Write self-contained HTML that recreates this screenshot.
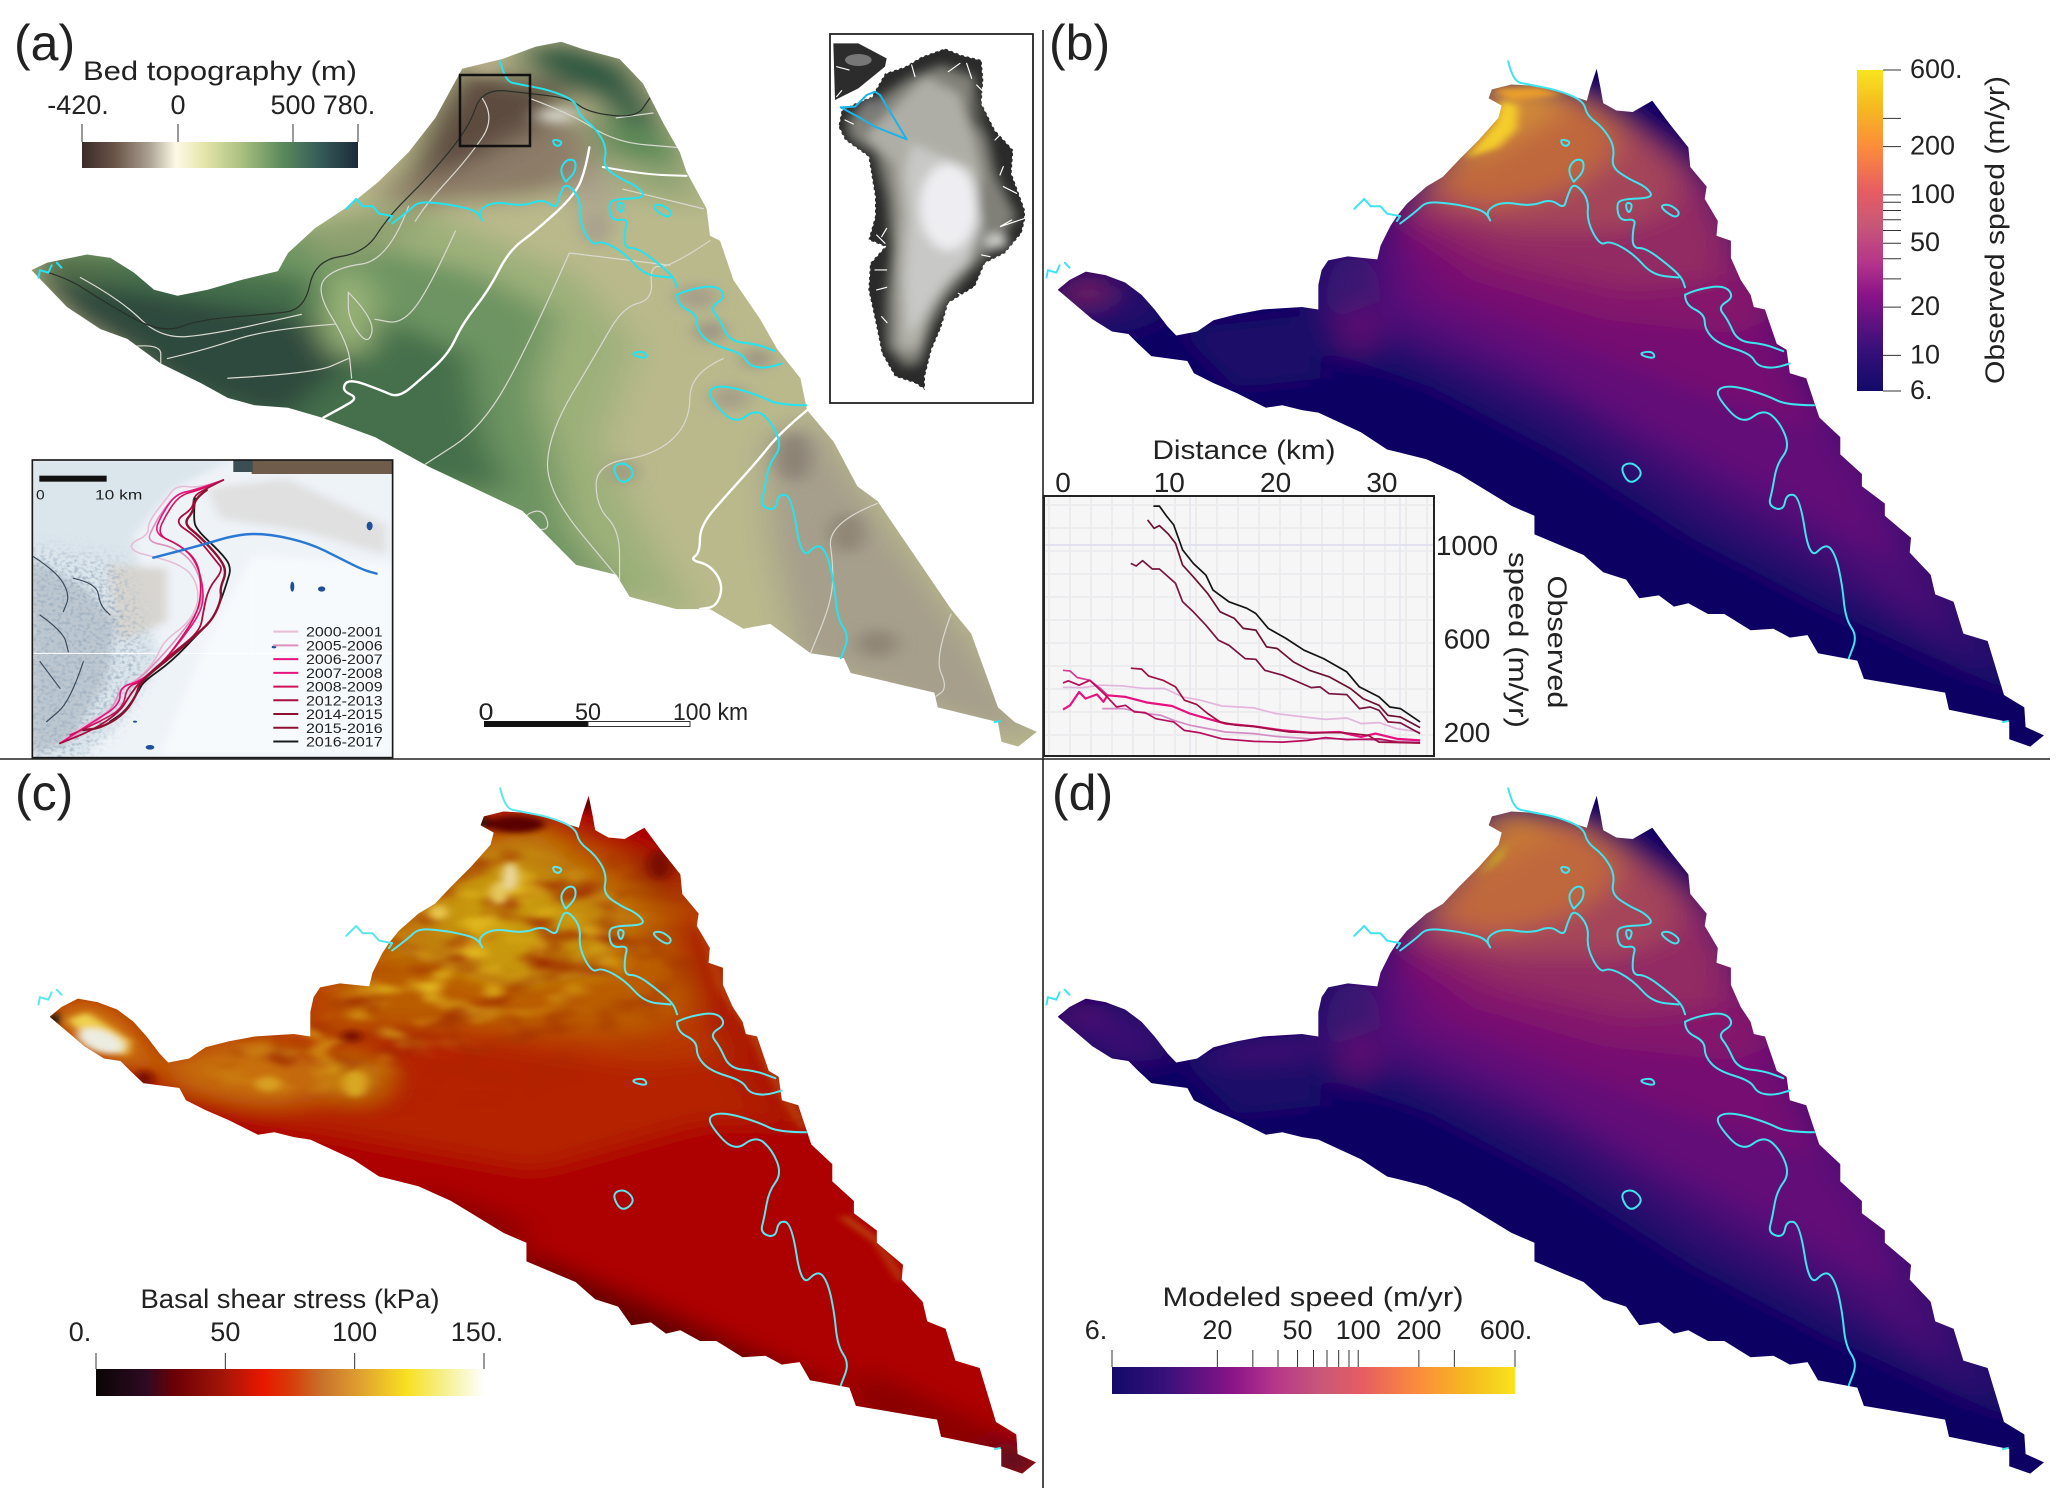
<!DOCTYPE html>
<html><head><meta charset="utf-8"><title>Bed topography, speed and basal shear stress maps</title>
<style>
html,body{margin:0;padding:0;background:#fff}
svg{display:block}
text{font-family:"Liberation Sans",sans-serif;fill:#222}
.ns{vector-effect:non-scaling-stroke;fill:none;stroke-linejoin:round;stroke-linecap:round}
</style></head>
<body>
<svg id="fig" xmlns="http://www.w3.org/2000/svg" width="2067" height="1506" viewBox="0 0 2067 1506">
<defs>
<clipPath id="shapeB"><polygon points="27,590 45,570 70,553 100,560 130,575 155,600 175,630 195,665 208,683 240,675 265,652 300,640 340,630 400,625 425,630 425,580 430,550 440,530 470,522 515,528 520,500 535,460 545,440 560,415 590,380 615,360 640,325 670,285 700,240 705,215 685,200 690,182 720,172 760,175 800,190 835,205 840,180 850,140 856,180 860,210 880,225 905,228 935,205 960,250 990,300 993,340 1018,380 1015,405 1035,450 1033,480 1055,490 1055,525 1070,570 1085,600 1090,625 1107,630 1125,700 1140,712 1145,760 1170,770 1190,850 1222,890 1222,925 1255,965 1255,990 1290,1025 1290,1050 1330,1095 1328,1125 1360,1170 1367,1210 1395,1225 1410,1290 1447,1305 1472,1415 1503,1440 1505,1480 1533,1497 1512,1520 1480,1505 1480,1470 1388,1445 1382,1410 1258,1382 1248,1345 1188,1330 1172,1293 1145,1298 1120,1280 1085,1283 1045,1250 1020,1250 990,1228 968,1235 945,1212 915,1218 895,1180 860,1165 830,1130 755,1088 755,1050 720,1030 640,965 590,935 530,915 490,880 425,840 400,835 370,825 345,830 300,800 265,780 235,760 225,735 170,725 150,700 135,680 110,675 80,650"/></clipPath>
<clipPath id="shapeA"><polygon points="47,550 70,535 130,518 165,525 200,555 230,590 265,602 310,590 360,570 415,552 430,515 470,465 520,420 565,370 610,310 650,240 690,140 750,120 800,95 838,85 870,100 925,120 960,170 990,250 1015,310 1025,350 1045,400 1055,425 1060,480 1075,490 1095,570 1135,650 1160,710 1195,770 1205,835 1245,900 1280,990 1310,1020 1350,1100 1375,1150 1420,1240 1450,1290 1490,1440 1515,1470 1548,1490 1520,1520 1495,1510 1490,1470 1400,1440 1395,1410 1270,1370 1260,1340 1210,1330 1180,1300 1150,1270 1110,1280 1060,1240 1010,1240 940,1215 920,1170 860,1150 780,1040 640,950 560,890 480,850 430,830 380,825 340,810 300,780 240,740 190,690 150,670 100,625"/></clipPath>
<clipPath id="greenClip"><polygon points="140,200 180,130 240,110 290,80 360,55 410,75 470,90 475,150 470,220 510,300 565,360 560,430 600,540 600,570 590,610 540,670 480,700 450,770 370,820 350,890 320,960 300,1040 300,1080 270,1060 210,1040 170,970 150,870 130,780 135,700 180,650 130,630 150,560 150,500 130,380 60,330 40,290 50,240 90,220"/></clipPath>
<clipPath id="insetClip"><rect x="37" y="15" width="1081" height="893"/></clipPath>
<filter id="blurXL" filterUnits="userSpaceOnUse" x="-200" y="-200" width="2000" height="2000"><feGaussianBlur stdDeviation="26 22"/></filter>
<filter id="blurL" filterUnits="userSpaceOnUse" x="-200" y="-200" width="2000" height="2000"><feGaussianBlur stdDeviation="14 12"/></filter>
<filter id="blurM" filterUnits="userSpaceOnUse" x="-200" y="-200" width="2000" height="2000"><feGaussianBlur stdDeviation="7 6"/></filter>
<filter id="blurG" filterUnits="userSpaceOnUse" x="-100" y="-100" width="900" height="1400"><feGaussianBlur stdDeviation="16"/></filter>
<filter id="mottleDark" color-interpolation-filters="sRGB" filterUnits="userSpaceOnUse" x="-100" y="-100" width="1800" height="1800"><feGaussianBlur in="SourceGraphic" stdDeviation="30" result="m"/><feTurbulence type="fractalNoise" baseFrequency=".014 .02" numOctaves="2" seed="7"/><feColorMatrix values="0 0 0 0 .62  0 0 0 0 .17  0 0 0 0 0  3 0 0 0 -1.45"/><feGaussianBlur stdDeviation="5"/><feComposite in2="m" operator="in"/></filter>
<filter id="mottleLight" color-interpolation-filters="sRGB" filterUnits="userSpaceOnUse" x="-100" y="-100" width="1800" height="1800"><feGaussianBlur in="SourceGraphic" stdDeviation="30" result="m"/><feTurbulence type="fractalNoise" baseFrequency=".016 .024" numOctaves="2" seed="21"/><feColorMatrix values="0 0 0 0 .88  0 0 0 0 .72  0 0 0 0 .12  3 0 0 0 -1.45"/><feGaussianBlur stdDeviation="5"/><feComposite in2="m" operator="in"/></filter>
<filter id="iceNoise" color-interpolation-filters="sRGB" filterUnits="userSpaceOnUse" x="0" y="0" width="1200" height="950"><feGaussianBlur in="SourceGraphic" stdDeviation="30" result="m"/><feTurbulence type="fractalNoise" baseFrequency=".08 .11" numOctaves="2" seed="3"/><feColorMatrix values="0 0 0 0 .62  0 0 0 0 .69  0 0 0 0 .76  2.6 0 0 0 -1.15"/><feComposite in2="m" operator="in"/></filter>
<linearGradient id="gradTopo" x1="0" x2="1" y1="0" y2="0"><stop offset="0" stop-color="#3a2a28"/><stop offset=".12" stop-color="#6b5549"/><stop offset=".24" stop-color="#a89e90"/><stop offset=".34" stop-color="#fdf9e6"/><stop offset=".44" stop-color="#e6e6ac"/><stop offset=".58" stop-color="#a9bf80"/><stop offset=".72" stop-color="#5d8c5c"/><stop offset=".86" stop-color="#365c58"/><stop offset="1" stop-color="#1b2a3a"/></linearGradient>
<linearGradient id="gradStress" x1="0" x2="1" y1="0" y2="0"><stop offset="0" stop-color="#0a0505"/><stop offset=".13" stop-color="#2e0a22"/><stop offset=".2" stop-color="#6a0005"/><stop offset=".33" stop-color="#a51508"/><stop offset=".43" stop-color="#e81800"/><stop offset=".5" stop-color="#d83a08"/><stop offset=".58" stop-color="#c8702a"/><stop offset=".68" stop-color="#e0a030"/><stop offset=".8" stop-color="#f8e020"/><stop offset=".9" stop-color="#f5f090"/><stop offset="1" stop-color="#ffffff"/></linearGradient>
<linearGradient id="gradSpeedH" x1="0" x2="1" y1="0" y2="0"><stop offset="0" stop-color="#120a68"/><stop offset=".13" stop-color="#37107a"/><stop offset=".3" stop-color="#8a1488"/><stop offset=".4" stop-color="#b5358a"/><stop offset=".52" stop-color="#c85878"/><stop offset=".62" stop-color="#e65c62"/><stop offset=".76" stop-color="#fc8c3c"/><stop offset=".88" stop-color="#f5b820"/><stop offset="1" stop-color="#f8e41e"/></linearGradient>
<linearGradient id="gradSpeedV" x1="0" x2="0" y1="1" y2="0"><stop offset="0" stop-color="#120a68"/><stop offset=".13" stop-color="#37107a"/><stop offset=".3" stop-color="#8a1488"/><stop offset=".4" stop-color="#b5358a"/><stop offset=".52" stop-color="#c85878"/><stop offset=".62" stop-color="#e65c62"/><stop offset=".76" stop-color="#fc8c3c"/><stop offset=".88" stop-color="#f5b820"/><stop offset="1" stop-color="#f8e41e"/></linearGradient>
<pattern id="gridPat" patternUnits="userSpaceOnUse" width="21" height="23"><rect width="21" height="23" fill="#f6f6f7"/><path d="M20 0V23M0 22H21" stroke="#ececef" stroke-width="2"/></pattern>

<g id="cyanLines">
<path class="ns sm" d="M715,125 L722,165 745,172 790,183 830,205 835,235 860,260 878,300 872,340 900,365 925,380 938,403 890,405 880,415 885,450 910,445 905,470 905,505 925,505 960,540 980,565 985,585"/>
<path class="ns sm" d="M550,455 L575,430 590,410 630,415 650,420 680,430 690,455 680,430 705,410 750,420 780,405 800,425 805,400 815,370 838,405 835,450 855,500 870,490 905,515 935,560 975,565"/>
<path class="ns sm" d="M815,370 L805,350 815,325 830,325 830,350 815,370"/>
<path class="ns sm" d="M985,600 L1000,590 1045,580 1060,605 1035,625 1050,650 1065,695 1105,700 1135,715"/>
<path class="ns sm" d="M985,600 L985,620 1015,640 1015,670 1035,700 1085,720 1095,745 1120,750 1145,740"/>
<path class="ns sm" d="M1182,825 L1140,825 1110,805 1060,785 1035,790 1035,810 1072,865 1105,832 1130,860 1145,910 1125,945 1118,1000 1112,1030 1135,1040 1140,1005 1160,1010 1175,1140 1200,1105 1215,1130 1225,1190 1230,1260 1248,1295 1235,1340"/>
<path class="ns sm" d="M795,283 L810,288 805,298 797,295Z M945,420 L960,415 978,432 970,445Z M895,412 L905,415 900,435 895,425Z M917,718 L935,715 940,730 920,725Z M885,950 L905,940 922,965 900,988Z"/>
<path class="ns" d="M480,425 L495,405 505,420 520,420 530,435 550,440 545,450 M10,565 L12,550 25,555 30,540 M38,535 L45,545 M1470,1470 L1478,1468"/>
</g>

<g id="speedBands">
<rect x="-100" y="0" width="1800" height="1700" fill="#0b0564"/>
<polygon fill="#1c086a" points="420,520 400,620 430,710 600,790 800,930 1000,1100 1200,1240 1500,1420 1500,1200 1300,950 1100,500 1000,330 850,220 650,300"/>
<polygon fill="#320970" points="440,520 450,650 620,760 800,880 1000,1060 1230,1210 1440,1370 1400,1150 1220,800 1050,380 850,220 650,300"/>
<polygon fill="#4c0a76" points="520,500 500,660 640,730 800,820 1000,990 1220,1150 1380,1290 1320,1030 1150,700 1020,380 850,220 650,300"/>
<polygon fill="#620a78" points="530,490 540,620 740,740 930,880 1130,1020 1310,1150 1250,960 1120,700 1020,400 850,220"/>
<polygon fill="#751072" points="545,470 600,600 780,690 1000,800 1190,880 1120,640 1030,420 860,220"/>
<polygon fill="#84186c" points="545,450 660,570 860,650 1060,680 1130,640 1050,470 1010,370 880,220"/>
<polygon fill="#922c64" points="550,430 700,530 900,590 1040,570 1050,470 1010,370 880,220"/>
<polygon fill="#a4455a" points="570,420 720,470 880,470 960,430 980,350 900,240 780,190"/>
<polygon fill="#c0683c" points="590,385 690,425 800,390 870,330 890,260 830,200 700,180 640,300"/>
<polygon fill="#0b0564" points="860,225 935,190 1010,300 1030,380 965,310 890,250"/>
<polygon fill="#1a0868" points="210,670 420,640 430,770 300,790"/>
<ellipse fill="#3a1272" cx="475" cy="600" rx="45" ry="80"/>
<ellipse fill="#6b1070" cx="485" cy="670" rx="18" ry="55"/>
<ellipse fill="#220a6a" cx="110" cy="620" rx="85" ry="55"/>
</g>
</defs>

<rect width="2067" height="1506" fill="#fff"/>

<!-- panel a -->
<g transform="scale(.6698,.4912)">
<g clip-path="url(#shapeA)">
<g filter="url(#blurXL)">
<rect x="-100" y="0" width="1800" height="1700" fill="#b9b98c"/>
<polygon fill="#9db07a" points="30,500 620,420 860,560 950,700 900,900 950,1050 1040,1260 700,1100 300,900"/>
<polygon fill="#6d9462" points="30,500 480,470 720,560 830,640 800,800 830,950 850,1080 940,1240 700,1080 300,900"/>
<polygon fill="#456f4c" points="30,500 440,560 560,640 700,720 720,880 760,1000 600,980 300,880"/>
<polygon fill="#2f4a3e" points="40,560 200,590 440,640 530,720 470,800 420,860 250,780 100,650"/>
<ellipse fill="#9ab478" cx="520" cy="640" rx="40" ry="90"/>
<ellipse fill="#556f4c" cx="120" cy="550" rx="70" ry="25"/>
<polygon fill="#8c7c68" points="550,400 620,340 720,300 860,230 900,360 800,400 620,420"/>
<polygon fill="#5d4b3f" points="690,130 850,180 830,240 700,330 600,380 640,240"/>
<polygon fill="#8fa070" points="460,470 580,420 640,440 560,520 470,530"/>
<polygon fill="#a89f8e" points="860,330 920,370 900,470 860,420"/>
<polygon fill="#2f5a42" points="760,100 838,75 940,120 1000,260 960,280 880,200 800,150"/>
<polygon fill="#5d8a58" points="880,230 1010,270 1030,350 900,320"/>
<polygon fill="#94a676" points="900,330 1030,350 1060,420 950,400"/>
<polygon fill="#a69f8c" points="1140,900 1210,840 1330,1080 1450,1300 1560,1520 1400,1450 1190,1340 1150,1100"/>
</g>
<g filter="url(#blurL)">
<ellipse fill="#8b8274" cx="1185" cy="930" rx="26" ry="50"/>
<ellipse fill="#8f8576" cx="1265" cy="1085" rx="26" ry="40"/>
<ellipse fill="#8f8576" cx="1310" cy="1310" rx="30" ry="28"/>
<ellipse fill="#a69f8a" cx="1040" cy="605" rx="32" ry="25"/>
<ellipse fill="#9b9384" cx="1060" cy="675" rx="22" ry="22"/>
<ellipse fill="#9b9384" cx="1130" cy="730" rx="22" ry="20"/>
<ellipse fill="#a69f8a" cx="1090" cy="810" rx="30" ry="25"/>
<ellipse fill="#9f9980" cx="930" cy="960" rx="20" ry="25"/>
<ellipse fill="#a89f8e" cx="890" cy="465" rx="20" ry="35"/>
<ellipse fill="#e0e0d8" cx="830" cy="235" rx="30" ry="14"/>
<ellipse fill="#bdb090" cx="725" cy="135" rx="22" ry="14"/>
</g>
<g>
<path class="ns sm" stroke="#fff" stroke-width="2.4" d="M880,300 L875,340 860,395 800,470 760,510 730,590 690,660 670,720 630,770 595,810 570,795 520,770 510,795 535,810 510,830 483,850"/>
<path class="ns sm" stroke="#fff" stroke-width="2.4" d="M1205,835 L1165,880 1130,940 1090,1000 1045,1070 1045,1125 1030,1140 1060,1150 1080,1190 1070,1235 1045,1240"/>
<path class="ns sm" stroke="#fff" stroke-width="2" d="M900,340 L960,355 1025,358"/>
<path class="ns sm" stroke="#d9d9d0" stroke-width="1.2" d="M1060,490 L1000,545 970,540 975,610 930,625 890,720 820,880 815,1000 925,1180"/>
<path class="ns sm" stroke="#d9d9d0" stroke-width="1.2" d="M850,515 L790,700 720,870 635,945 M850,515 L1000,540"/>
<path class="ns sm" stroke="#d9d9d0" stroke-width="1.2" d="M1080,730 L1030,760 1030,860 980,925 890,945 890,1030 925,1080 925,1180"/>
<path class="ns sm" stroke="#d9d9d0" stroke-width="1.2" d="M1310,1025 L1235,1065 1245,1160 1240,1230 1210,1330 M1420,1250 L1395,1340 1415,1400 1395,1420"/>
<path class="ns sm" stroke="#d9d9d0" stroke-width="1.2" d="M680,470 L640,590 600,660 560,650 M610,420 L580,530 500,545 470,590 520,700 525,770 M520,595 L560,650 550,705 520,650 520,595"/>
<path class="ns sm" stroke="#d9d9d0" stroke-width="1.2" d="M120,565 L180,610 240,690 320,680 450,640 M500,660 L400,670 310,710 250,730 M340,770 L470,760 520,730 M200,705 L240,700 240,740"/>
<path class="ns sm" stroke="#d9d9d0" stroke-width="1.2" d="M720,200 L740,240 700,320 640,410 620,450 M790,200 L850,230 920,290 1010,300 M920,240 L975,230 M930,385 L1050,425 M780,1050 L810,1035 822,1078 795,1078Z"/>
<path class="ns sm" stroke="#29302a" stroke-width="1.2" d="M60,550 L100,565 150,610 240,680 300,650 400,640 455,630 470,530 545,515 580,440 640,360 700,260 720,180 790,190 850,200 880,230 950,240 970,200"/>
</g>
</g>
</g>
<use href="#cyanLines" transform="translate(32,0) scale(.6549,.4912)" stroke="#27e3ee" stroke-width="2"/>
<rect x="460" y="75" width="70" height="71" fill="none" stroke="#111" stroke-width="2.5"/>

<!-- Greenland inset -->
<rect x="830" y="34" width="203" height="369" fill="#fff" stroke="#222" stroke-width="1.8"/>
<g transform="translate(825,30) scale(.3333)">
<polygon fill="#2c2c2c" points="25,40 100,40 185,85 180,110 100,175 30,210"/>
<ellipse fill="#777" cx="100" cy="90" rx="40" ry="18"/>
<polygon fill="#2a2a2a" points="140,200 180,130 240,110 290,80 360,55 410,75 470,90 475,150 470,220 510,300 565,360 560,430 600,540 600,570 590,610 540,670 480,700 450,770 370,820 350,890 320,960 300,1040 300,1080 270,1060 210,1040 170,970 150,870 130,780 135,700 180,650 130,630 150,560 150,500 130,380 60,330 40,290 50,240 90,220"/>
<g clip-path="url(#greenClip)"><g filter="url(#blurG)">
<polygon fill="#808078" points="170,200 250,145 350,105 450,140 450,240 490,330 510,430 575,560 510,650 440,720 370,800 320,890 285,1000 240,1010 185,950 185,800 200,660 185,500 150,370 75,325 65,270 110,235"/>
<polygon fill="#aeaea6" points="190,250 300,140 400,190 440,300 470,430 450,620 400,720 320,830 280,960 220,960 215,700 225,550 205,400 120,320"/>
<polygon fill="#c8c8c6" points="260,340 440,420 470,580 430,700 360,760 300,850 250,920 240,760 255,560 240,430"/>
<ellipse fill="#eeeef2" cx="370" cy="530" rx="85" ry="130"/>
<ellipse fill="#d8d8d4" cx="515" cy="635" rx="35" ry="20"/>
<ellipse fill="#5a5a54" cx="450" cy="250" rx="20" ry="50"/>
<ellipse fill="#777" cx="145" cy="230" rx="45" ry="25"/>
</g></g>
<g stroke="#fff" stroke-width="3.5" fill="none" stroke-linecap="round">
<path d="M120,170 L190,110 M260,105 L270,140 M370,125 L405,100 M425,100 L440,145 M455,165 L475,185 M510,330 L530,310 M535,410 L525,435 M535,470 L575,490 M560,570 L525,590 L600,565 M495,680 L470,675 M400,790 L418,800 M180,640 L155,615 M170,620 L185,595 M150,720 L185,720 M155,780 L185,772 M170,860 L186,878 M35,110 L72,120 M35,200 L50,182 M60,270 L85,282 M350,880 L362,888 M320,960 L328,968"/>
<polygon points="140,200 180,130 240,110 290,80 360,55 410,75 470,90 475,150 470,220 510,300 565,360 560,430 600,540 600,570 590,610 540,670 480,700 450,770 370,820 350,890 320,960 300,1040 300,1080 270,1060 210,1040 170,970 150,870 130,780 135,700 180,650 130,630 150,560 150,500 130,380 60,330 40,290 50,240 90,220" stroke-width="5" stroke-dasharray="4 13"/>
</g>
<path class="ns" stroke="#1cb4e6" stroke-width="2" d="M47,232 L90,230 125,195 150,185 165,195 245,328 150,290 95,258 47,232"/>
</g>

<!-- glacier front inset -->
<g transform="translate(20,455) scale(.3333)">
<g clip-path="url(#insetClip)">
<rect x="37" y="15" width="1081" height="893" fill="#eef3f8"/>
<g filter="url(#blurL)">
<polygon fill="#dbe5ec" points="30,10 640,10 460,100 340,240 390,500 420,620 300,800 180,910 30,910"/>
<polygon fill="#bdc7d0" points="30,310 200,400 290,500 260,680 150,860 30,900"/>
<polygon fill="#d8d5d0" points="260,330 440,340 440,500 300,560"/>
<polygon fill="#e0e0e0" points="560,100 800,70 1100,210 1100,300 850,230 600,190"/>
<polygon fill="#f7fafd" points="700,300 1118,330 1118,900 420,900 560,560"/>
</g>
<polygon filter="url(#iceNoise)" fill="#fff" points="20,280 300,320 360,500 390,620 290,800 170,920 20,920"/>
<rect x="695" y="15" width="423" height="42" fill="#6f5c4b"/>
<rect x="640" y="15" width="58" height="36" fill="#3a4e54"/>
<path class="ns sm" stroke="#3c4c5c" stroke-width="1.2" d="M40,305 L110,350 150,420 130,470 M160,370 L230,385 240,450 270,480 M60,480 L130,530 145,590 M190,620 L150,740 80,800 M60,620 L120,700"/>
<path d="M40 595H1118" stroke="#fff" stroke-width="3"/>
<path d="M695 300V600" stroke="#fff" stroke-width="1.5" opacity=".6"/>
<g fill="#1d4f9c"><ellipse cx="1049" cy="213" rx="9" ry="13"/><ellipse cx="817" cy="395" rx="6" ry="15"/><ellipse cx="905" cy="402" rx="11" ry="8"/><ellipse cx="390" cy="877" rx="13" ry="7"/><ellipse cx="762" cy="576" rx="7" ry="4"/><ellipse cx="345" cy="800" rx="6" ry="3"/></g>
<g stroke-width="1.5">
<path class="ns sm" stroke="#e6bcd6" stroke-width="1.6" d="M610,75 L540,100 470,90 440,130 385,200 385,240 330,265 340,290 400,305 470,325 520,360 540,430 510,500 430,560 410,610 360,670 300,700 290,750 230,790 170,825 120,865"/>
<path class="ns sm" stroke="#dd8fbc" stroke-width="1.6" d="M610,75 L520,105 465,120 420,180 400,215 380,260 460,275 520,320 550,400 540,460 480,540 420,610 350,680 300,700 280,760 200,820 120,865"/>
<path class="ns sm" stroke="#e8137f" stroke-width="1.6" d="M610,75 L530,105 470,115 430,170 400,235 470,265 525,310 552,400 545,470 480,560 430,620 360,680 300,695 300,750 220,800 120,865"/>
<path class="ns sm" stroke="#d1105c" stroke-width="1.6" d="M610,75 L540,105 480,120 440,175 410,240 480,270 535,320 545,410 530,480 470,570 425,625 365,680 320,695 310,760 230,805 150,840"/>
<path class="ns sm" stroke="#a80e40" stroke-width="1.8" d="M610,75 L550,105 520,125 520,160 460,200 530,245 590,320 610,345 565,400 550,470 540,530 450,600 360,680 330,720 300,770 220,825 120,865"/>
<path class="ns sm" stroke="#1a1a1a" stroke-width="1.8" d="M525,130 L520,190 530,225 600,290 635,335 620,385 605,430 580,490 540,530 455,620 370,680 355,710 315,770 270,800"/>
<path class="ns sm" stroke="#8d1030" stroke-width="2.4" d="M560,105 L525,130 520,170 490,205 540,245 600,310 620,350 600,400 605,430 580,490 540,530 460,600 360,680 350,720 310,780 240,820 190,825"/>
</g>
<path class="ns sm" stroke="#2a78d4" stroke-width="2.4" d="M400,308 L530,275 655,237 750,237 870,265 960,310 1030,345 1070,356"/>
<rect x="58" y="62" width="202" height="18" fill="#111"/>
<text x="48" y="133" font-size="42" textLength="26" lengthAdjust="spacingAndGlyphs">0</text>
<text x="225" y="133" font-size="42" textLength="142" lengthAdjust="spacingAndGlyphs">10 km</text>
<g id="frontLegend"></g>
</g>
<rect x="37" y="15" width="1081" height="893" fill="none" stroke="#1a1a1a" stroke-width="5"/>
</g>

<g>
<rect x="484" y="721" width="104" height="6" fill="#111"/>
<rect x="588" y="721.5" width="102" height="5" fill="#fff" stroke="#333" stroke-width="1"/>
<text x="486" y="720" font-size="24" text-anchor="middle" textLength="15" lengthAdjust="spacingAndGlyphs">0</text>
<text x="588" y="720" font-size="24" text-anchor="middle" textLength="26" lengthAdjust="spacingAndGlyphs">50</text>
<text x="673" y="720" textLength="75" lengthAdjust="spacingAndGlyphs" font-size="24">100 km</text>
</g>

<!-- panel b -->
<g transform="translate(1040,0) scale(.6549,.4912)">
<g clip-path="url(#shapeB)">
<g filter="url(#blurXL)"><use href="#speedBands"/>
<polygon fill="#d08a38" points="630,350 690,310 740,270 800,225 770,175 685,175 680,230"/>
<ellipse fill="#732060" cx="72" cy="595" rx="34" ry="32"/>
</g>
<g filter="url(#blurM)"><polygon fill="#f4cc2a" points="650,322 700,300 728,262 730,215 705,205 695,250"/><polygon fill="#ea9e2a" points="690,182 760,178 800,192 720,205"/></g>
</g>
<use href="#cyanLines" stroke="#3fe4ee" stroke-width="2"/>
</g>

<!-- panel c -->
<g transform="translate(32,727) scale(.6549,.4912)">
<g clip-path="url(#shapeB)">
<g filter="url(#blurXL)" transform="translate(-48.9,67) scale(1.0228,.97)">
<rect x="0" y="0" width="1700" height="1600" fill="#ad0500"/>
<polygon fill="#b42000" points="60,450 1100,400 1230,760 1050,760 800,860 400,760 250,690"/>
<polygon fill="#b83800" points="240,620 560,560 960,640 1100,620 1060,250 760,100 420,500"/>
<polygon fill="#ba5c06" points="460,560 700,560 950,580 1040,520 1020,300 800,130 600,280"/>
<polygon fill="#c08008" points="580,400 700,180 800,150 950,330 900,450 760,480"/>
<polygon fill="#c8980c" points="650,300 740,200 880,320 860,420 760,470 680,400"/>
<polygon fill="#640000" points="780,1030 1000,1160 1250,1320 1180,1340 900,1230 760,1060"/>
<polygon fill="#8a0200" points="640,900 780,970 780,1060 600,930"/>
<polygon fill="#8a0200" points="1280,1270 1480,1400 1480,1480 1270,1380"/>
<polygon fill="#3a0a20" points="1480,1410 1560,1470 1520,1520 1480,1490"/>
<polygon fill="#880500" points="950,180 1000,230 1010,320 960,260"/>
<polygon fill="#aa1400" points="1000,340 1050,340 1215,780 1150,770 1040,520"/>
<ellipse fill="#b84a00" cx="500" cy="570" rx="45" ry="50"/>
<ellipse fill="#c46a10" cx="400" cy="670" rx="110" ry="55"/>
<ellipse fill="#c88810" cx="530" cy="670" rx="40" ry="45"/>
<polygon fill="#d07a10" points="70,540 120,500 180,540 240,650 180,640"/>
<polygon fill="#c8700e" points="240,640 350,590 450,610 400,680 280,700"/>
</g>
<g transform="translate(-48.9,67) scale(1.0228,.97)">
<polygon filter="url(#mottleDark)" fill="#fff" points="300,640 480,500 620,280 730,160 980,180 1040,360 1000,520 800,640 500,700"/>
<polygon filter="url(#mottleLight)" fill="#fff" points="320,660 500,520 640,300 770,200 940,300 960,420 800,520 600,620 480,680"/>
</g>
<g filter="url(#blurM)" transform="translate(-48.9,67) scale(1.0228,.97)">
<polygon fill="#f0d050" points="100,545 130,530 195,590 190,620 150,610"/>
<ellipse fill="#ecece0" cx="150" cy="590" rx="38" ry="22" transform="rotate(30 150 590)"/>
<ellipse fill="#ecd9a0" cx="762" cy="245" rx="12" ry="30"/>
<ellipse fill="#e6c860" cx="745" cy="280" rx="14" ry="24"/>
<ellipse fill="#e8c850" cx="655" cy="320" rx="14" ry="16"/>
<ellipse fill="#d8a820" cx="530" cy="680" rx="18" ry="28"/>
<ellipse fill="#d8a020" cx="400" cy="680" rx="20" ry="16"/>
<g fill="#5a0000"><ellipse cx="770" cy="135" rx="44" ry="18"/></g>
<g fill="#7a0800"><ellipse cx="985" cy="220" rx="18" ry="30"/><ellipse cx="525" cy="580" rx="16" ry="12"/><ellipse cx="215" cy="670" rx="14" ry="18"/></g>
<g fill="#111"><ellipse cx="80" cy="545" rx="9" ry="14"/><ellipse cx="720" cy="130" rx="8" ry="14"/><ellipse cx="878" cy="95" rx="4" ry="14"/></g>
<path class="ns" stroke="#c06a14" stroke-width="4" d="M1045,330 L1075,470 1130,590 1165,690 1200,770 M1260,960 L1310,1010 1345,1090"/>
</g>
</g>
<use href="#cyanLines" stroke="#5be6ee" stroke-width="2"/>
</g>

<!-- panel d -->
<g transform="translate(1040,727) scale(.6549,.4912)">
<g clip-path="url(#shapeB)">
<g filter="url(#blurXL)"><use href="#speedBands"/>
<polygon fill="#c87a32" points="660,330 700,280 730,250 790,225 750,180 690,180 690,230"/>
<polygon fill="#3a0c72" points="30,590 80,555 150,600 195,665 150,690 90,650"/>
<ellipse fill="#5a1070" cx="60" cy="585" rx="26" ry="20"/>
<polygon fill="#3a0c72" points="240,675 300,640 420,625 420,680 300,690"/>
</g>
<g filter="url(#blurM)"><polygon fill="#c4b420" points="670,305 704,268 715,230 695,262"/></g>
</g>
<use href="#cyanLines" stroke="#3fe4ee" stroke-width="2"/>
</g>

<!-- separators -->
<line x1="1043" y1="30" x2="1043" y2="1488" stroke="#222" stroke-width="1.6"/>
<line x1="0" y1="759" x2="2050" y2="759" stroke="#222" stroke-width="1.6"/>

<!-- panel labels -->
<text x="14" y="60" font-size="50">(a)</text>
<text x="1049" y="60" font-size="50">(b)</text>
<text x="15" y="810" font-size="50">(c)</text>
<text x="1052" y="810" font-size="50">(d)</text>

<!-- colorbars -->
<g id="cbarTopo">
<rect x="82" y="142" width="276" height="26" fill="url(#gradTopo)"/>
<text x="220" y="80" font-size="27" text-anchor="middle" textLength="274" lengthAdjust="spacingAndGlyphs">Bed topography (m)</text>
</g>
<g id="cbarStress">
<rect x="96" y="1369" width="388" height="27" fill="url(#gradStress)"/>
<text x="290" y="1308" font-size="27" text-anchor="middle" textLength="299" lengthAdjust="spacingAndGlyphs">Basal shear stress (kPa)</text>
</g>
<g id="cbarModel">
<rect x="1112" y="1367" width="403" height="27" fill="url(#gradSpeedH)"/>
<text x="1313" y="1306" font-size="27" text-anchor="middle" textLength="301" lengthAdjust="spacingAndGlyphs">Modeled speed (m/yr)</text>
</g>
<g id="cbarObs">
<rect x="1857" y="70" width="26" height="321" fill="url(#gradSpeedV)"/>
<text transform="translate(2004,230) rotate(-90)" font-size="27" text-anchor="middle" textLength="308" lengthAdjust="spacingAndGlyphs">Observed speed (m/yr)</text>
</g>

<!-- speed profile inset -->
<g id="profile">
<rect x="1044" y="496" width="390" height="260" fill="url(#gridPat)"/>
<line x1="1044" y1="545" x2="1434" y2="545" stroke="#dcdcec" stroke-width="1.5"/>
<line x1="1190" y1="496" x2="1190" y2="756" stroke="#dfe3f0" stroke-width="1.2"/>
<line x1="1400" y1="496" x2="1400" y2="756" stroke="#dfe3f0" stroke-width="1.2"/>
<g id="profileLines"></g>
<rect x="1044" y="496" width="390" height="260" fill="none" stroke="#222" stroke-width="2"/>
<text x="1244" y="459" font-size="27" text-anchor="middle" textLength="183" lengthAdjust="spacingAndGlyphs">Distance (km)</text>
<text transform="translate(1548,642) rotate(90)" font-size="27" text-anchor="middle" textLength="133" lengthAdjust="spacingAndGlyphs">Observed</text>
<text transform="translate(1509,640) rotate(90)" font-size="27" text-anchor="middle" textLength="176" lengthAdjust="spacingAndGlyphs">speed (m/yr)</text>
</g>

<script>
// ---- speed profile data (km along transect, speed in m/yr) ----
const seriesNames = ['2000-2001','2005-2006','2006-2007','2007-2008','2008-2009','2012-2013','2014-2015','2015-2016','2016-2017'];
const distTicks = [0,10,20,30];
const speedTicks = [200,600,1000];
const km2000 = [0,1.85,3.53,5.54,7.56,9.57,11.25,12.93,14.95,17.97,19.99,22.67,24.69,26.7,28.05,29.73,31.41,33.59];
const v2000 = [391,390,400,397,387,386,350,336,311,303,279,264,254,260,236,240,214,200];
const km2005 = [3.69,5.71,7.56,9.24,10.41,11.92,15.28,17.97,19.99,23.35,26.37,29.73,33.59];
const v2005 = [300,300,281,271,250,229,200,193,181,171,171,164,157];
const km2006 = [0,0.67,1.34,2.52,3.53,4.2,5.88,7.89,10.25,11.92,13.6,15.28,17.97,20.66,23.35,26.03,28.05,29.39,31.41,33.59];
const v2006 = [464,461,433,421,386,357,350,326,311,279,257,236,224,207,196,200,179,193,171,164];
const km2007 = [0,0.67,1.51,2.12,3.19,3.8,4.2,5.88,7.89,10.25,11.92,13.6,15.28,17.97,20.66,23.35,26.03,28.05,29.39,31.41,33.59];
const v2007 = [296,314,371,343,361,329,357,350,326,311,279,257,236,224,207,196,200,179,193,171,164];
const km2008 = [0,0.5,1.51,2.52,3.86,5.04,5.88,6.72,7.73,8.73,10.41,11.42,12.93,14.95,17.97,20.66,23.01,24.69,26.7,29.73,31.41,33.59];
const v2008 = [410,419,400,421,364,307,314,286,283,257,243,207,196,171,160,157,164,176,167,171,157,153];
const km2012 = [6.38,7.39,8.06,9.41,10.58,11.42,12.6,13.6,14.78,16.29,17.97,19.65,21.33,23.35,26.37,28.72,29.73,33.59];
const v2012 = [473,469,439,421,393,336,317,279,243,229,224,211,200,197,197,186,157,153];
const km2014 = [6.38,6.89,7.49,8.4,9.07,10.58,11.25,12.26,13.44,14.61,15.62,17.13,18.14,18.98,20.66,23.35,24.19,25.03,26.7,27.88,28.89,29.73,30.57,31.74,33.59];
const v2014 = [921,910,933,897,897,836,757,714,657,593,571,514,511,464,443,390,393,364,360,300,307,293,243,239,193];
const km2015 = [7.96,8.57,9.07,9.91,10.58,11.25,12.26,13.6,14.78,16.12,16.96,18.14,19.15,20.15,21.67,23.18,25.03,27.04,28.22,29.73,30.57,31.74,33.59];
const v2015 = [1107,1071,1083,1047,1007,914,864,793,714,686,643,636,564,557,500,464,436,386,343,314,271,264,219];
const km2016 = [8.5,9.07,9.74,10.41,11.25,12.26,13.44,14.11,15.62,17.3,18.14,19.31,20.99,22.67,24.52,26.7,27.88,29.73,30.74,31.74,33.59];
const v2016 = [1166,1166,1124,1086,979,921,871,807,757,729,707,643,600,550,514,457,393,350,307,300,243];
// ---- colorbar ticks and labels ----
const topoTicks = [-420,0,500,780];
const topoLabels = ['-420.','0','500','780.'];
const stressTicks = [0,50,100,150];
const stressLabels = ['0.','50','100','150.'];
const speedBarTicks = [6,10,20,30,40,50,60,70,80,90,100,200,300,600];
const speedBarLabeled = [6,10,20,50,100,200,600];
const speedBarLabels = ['6.','10','20','50','100','200','600.'];
const modelBarTicks = [6,20,30,40,50,60,70,80,90,100,200,300,600];
const modelBarLabeled = [6,20,50,100,200,600];
const modelBarLabels = ['6.','20','50','100','200','600.'];

const NS = 'http://www.w3.org/2000/svg';
function make(tag, parent, attrs){
  const el = document.createElementNS(NS, tag);
  for (const k in attrs) el.setAttribute(k, attrs[k]);
  parent.appendChild(el);
  return el;
}
// round the corners of traced outlines
document.querySelectorAll('path.sm').forEach(p => {
  const parts = p.getAttribute('d').split(/(?=M)/);
  const out = parts.map(part => {
    const closed = /Z/.test(part);
    const n = part.match(/-?[\d.]+/g).map(Number);
    const pts = [];
    for (let i = 0; i < n.length; i += 2) pts.push([n[i], n[i + 1]]);
    const mid = (a, b) => ((a[0] + b[0]) / 2) + ',' + ((a[1] + b[1]) / 2);
    if (closed) {
      let d = 'M' + mid(pts[pts.length - 1], pts[0]);
      pts.forEach((pt, i) => {
        d += 'Q' + pt[0] + ',' + pt[1] + ' ' + mid(pt, pts[(i + 1) % pts.length]);
      });
      return d + 'Z';
    }
    let d = 'M' + pts[0][0] + ',' + pts[0][1];
    for (let i = 1; i < pts.length - 1; i++) {
      d += 'Q' + pts[i][0] + ',' + pts[i][1] + ' ' + mid(pts[i], pts[i + 1]);
    }
    const last = pts[pts.length - 1];
    return d + 'L' + last[0] + ',' + last[1];
  });
  p.setAttribute('d', out.join(' '));
});
// axis functions
const xKm = km => 1063 + 10.63 * km;
const yV = v => 732 + (200 - v) * 0.2338;
const topoX = v => v <= 0 ? 82 + (v + 420) / 420 * 96 : v <= 500 ? 178 + v / 500 * 115 : 293 + (v - 500) / 280 * 65;
const stressX = v => 96 + v / 150 * 388;
const logV = v => Math.log10(v / 6) / 2;
const obsY = v => 391 - logV(v) * 321;
const modelX = v => 1112 + logV(v) * 403;

// profile lines
const profileLines = document.getElementById('profileLines');
const seriesKm = [km2000,km2005,km2006,km2007,km2008,km2012,km2014,km2015,km2016];
const seriesV = [v2000,v2005,v2006,v2007,v2008,v2012,v2014,v2015,v2016];
const seriesCol = ['#e2b6dc','#d48cc4','#d93a98','#e6127f','#b30f5c','#9c1042','#7a1440','#6a1030','#141414'];
seriesKm.forEach((kms, i) => {
  const pts = kms.map((k, j) => xKm(k).toFixed(1) + ',' + yV(seriesV[i][j]).toFixed(1)).join(' ');
  const line = make('polyline', profileLines, {points: pts, fill: 'none', stroke: seriesCol[i], 'stroke-width': (i === 3 ? 2.2 : 1.7), 'stroke-linejoin': 'round'});
  
  
});
const profile = document.getElementById('profile');
distTicks.forEach(d => {
  const t = make('text', profile, {x: xKm(d), y: 492, 'font-size': 28, 'text-anchor': 'middle'});
  t.textContent = d;
  
  
});
speedTicks.forEach(v => {
  const t = make('text', profile, {x: 1467, y: yV(v) + 10, 'font-size': 28, 'text-anchor': 'middle'});
  t.textContent = v;
  
  
});

// colorbar ticks
function hTicks(parent, vals, xf, y0, y1){
  vals.forEach(v => {
    const l = make('line', parent, {x1: xf(v), x2: xf(v), y1: y0, y2: y1, stroke: '#333', 'stroke-width': 1});
    
    
  });
}
function hLabels(parent, xs, labels, y){
  labels.forEach((s, i) => {
    const t = make('text', parent, {x: xs[i], y: y, 'font-size': 27, 'text-anchor': 'middle'});
    t.textContent = s;
    
    
  });
}
const cT = document.getElementById('cbarTopo');
hTicks(cT, topoTicks, topoX, 124, 142);
hLabels(cT, [78, 178, 293, 349], topoLabels, 114);
const cS = document.getElementById('cbarStress');
hTicks(cS, stressTicks, stressX, 1353, 1369);
hLabels(cS, [80, stressX(50), stressX(100), 477], stressLabels, 1341);
const cM = document.getElementById('cbarModel');
hTicks(cM, modelBarTicks, modelX, 1350, 1367);
hLabels(cM, modelBarLabeled.map((v, i) => i === 0 ? 1096 : i === 5 ? 1506 : modelX(v)), modelBarLabels, 1339);
const cO = document.getElementById('cbarObs');
speedBarTicks.forEach(v => {
  const l = make('line', cO, {x1: 1883, x2: 1901, y1: obsY(v), y2: obsY(v), stroke: '#333', 'stroke-width': 1});
  
  
});
speedBarLabeled.forEach((v, i) => {
  const t = make('text', cO, {x: 1910, y: obsY(v) + 8, 'font-size': 27});
  t.textContent = speedBarLabels[i];
  
  
});

// front legend
const frontLegend = document.getElementById('frontLegend');
const frontCol = ['#e6bcd6','#dd8fbc','#e8137f','#e8137f','#d1105c','#a80e40','#8d1030','#8d1030','#1a1a1a'];
seriesNames.forEach((s, i) => {
  const rowY = 530 + i * 41.2;
  const sw = make('line', frontLegend, {x1: 760, x2: 835, y1: rowY, y2: rowY, stroke: frontCol[i], 'stroke-width': 6});
  
  
  const t = make('text', frontLegend, {x: 858, y: rowY + 15, 'font-size': 42, textLength: 230, lengthAdjust: 'spacingAndGlyphs'});
  t.textContent = s;
  
  
});
</script>
</svg>
</body></html>
